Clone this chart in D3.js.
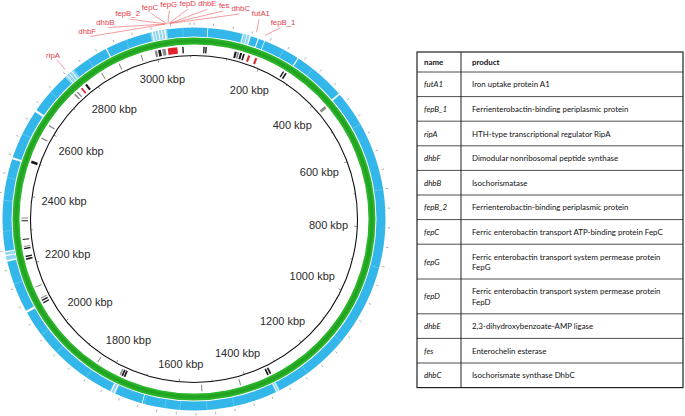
<!DOCTYPE html>
<html>
<head>
<meta charset="utf-8">
<script src="https://cdn.jsdelivr.net/npm/d3@7"></script>
<style>
  body { margin: 0; background: #fff; }
  svg { display: block; }
</style>
</head>
<body>
<svg id="chart" width="685" height="416"></svg>
<script>
// genome size and backbone ticks (kbp)
var genomeKbp = 3110;
var tickKbp = [200, 400, 600, 800, 1000, 1200, 1400, 1600, 1800, 2000, 2200, 2400, 2600, 2800, 3000];

// labelled genes and their positions (kbp)
var geneNames = ["futA1", "fepB_1", "ripA", "dhbF", "dhbB", "fepB_2", "fepC", "fepG", "fepD", "dhbE", "fes", "dhbC"];
var geneKbp   = [160, 183, 2758, 3036, 3038, 3040, 3042, 3044, 3046, 3048, 3050, 3052];
var products = [
  ["Iron uptake protein A1"],
  ["Ferrienterobactin-binding periplasmic protein"],
  ["HTH-type transcriptional regulator RipA"],
  ["Dimodular nonribosomal peptide synthase"],
  ["Isochorismatase"],
  ["Ferrienterobactin-binding periplasmic protein"],
  ["Ferric enterobactin transport ATP-binding protein FepC"],
  ["Ferric enterobactin transport system permease protein", "FepG"],
  ["Ferric enterobactin transport system permease protein", "FepD"],
  ["2,3-dihydroxybenzoate-AMP ligase"],
  ["Enterochelin esterase"],
  ["Isochorismate synthase DhbC"]
];

// outer (blue) ring: gaps, pale stretches and faint stripes (kbp)
var blueGaps = [[35, 37], [128, 130], [138, 140], [146, 149], [168, 171], [186, 188], [283, 286], [424, 428],
  [1327, 1329], [1333, 1335], [1690, 1692], [1766, 1769], [1775, 1778], [2079, 2085], [2222, 2225], [2236, 2239],
  [2246, 2248], [2490, 2495], [2626, 2632], [2750, 2752], [2758, 2760], [2766, 2768], [2873, 2876],
  [3000, 3003], [3008, 3010], [3016, 3019], [3024, 3027], [3032, 3036]];
var bluePale = [[126, 150], [1325, 1337], [1764, 1780], [2220, 2250], [2745, 2775], [2995, 3040]];
var blueStripes = [240, 330, 520, 700, 905, 1120, 1240, 1450, 1520, 1591, 1630, 1684, 1850, 1950, 2010, 2160, 2300, 2380, 2440, 2560, 2690, 2820, 2930, 3080];

// inner feature track: [start, end, kind]
var features = [
  [2996, 3003, "grey"], [3006, 3014, "black"], [3018, 3028, "grey"], [3034, 3062, "target"],
  [3076, 3080, "black"], [27, 31, "black"], [33, 37, "black"],
  [118, 124, "black"], [126, 131, "grey"], [134, 140, "black"], [143, 148, "black"], [158, 164, "target"], [180, 186, "target"],
  [268, 272, "black"], [276, 281, "black"], [425, 433, "grey"],
  [1325, 1330, "black"], [1333, 1338, "black"], [1418, 1420, "grey"], [1531, 1533, "grey"],
  [1758, 1763, "black"], [1765, 1770, "black"], [1772, 1776, "grey"], [1847, 1849, "grey"],
  [2079, 2083, "black"], [2087, 2091, "black"], [2095, 2097, "grey"], [2130, 2132, "grey"],
  [2214, 2219, "black"], [2222, 2226, "black"], [2245, 2249, "black"], [2252, 2254, "grey"], [2272, 2274, "black"],
  [2326, 2329, "black"], [2334, 2337, "grey"], [2496, 2504, "black"], [2572, 2576, "grey"], [2614, 2618, "grey"],
  [2730, 2735, "grey"], [2740, 2744, "grey"], [2756, 2761, "target"], [2772, 2778, "black"],
  [2829, 2831, "grey"], [2886, 2889, "grey"], [2954, 2957, "grey"]
];

var svg = d3.select("#chart");
var cx = 194, cy = 219;
var rBackbone = 163.5;

var angle = d3.scaleLinear().domain([0, genomeKbp]).range([0, 2 * Math.PI]);
var featColor = d3.scaleOrdinal().domain(["black", "grey", "target"]).range(["#1a1a1a", "#8a8a8a", "#e3232b"]);

function pt(a, r) { return [cx + r * Math.sin(a), cy - r * Math.cos(a)]; }

var g = svg.append("g").attr("transform", "translate(" + cx + "," + cy + ")");
var arc = d3.arc();

// outer small ticks
g.selectAll(".otick")
    .data(d3.range(0, genomeKbp, 50))
  .enter().append("line")
    .attr("x1", function(d) { return 194 * Math.sin(angle(d)); })
    .attr("y1", function(d) { return -194 * Math.cos(angle(d)); })
    .attr("x2", function(d) { return 196.5 * Math.sin(angle(d)); })
    .attr("y2", function(d) { return -196.5 * Math.cos(angle(d)); })
    .attr("stroke", "#9a9a9a")
    .attr("stroke-width", 0.8);

// blue ring
g.append("path")
    .attr("d", arc({innerRadius: 182.5, outerRadius: 191.5, startAngle: 0, endAngle: 2 * Math.PI}))
    .attr("fill", "#33b6e9");

g.selectAll(".bpale")
    .data(bluePale)
  .enter().append("path")
    .attr("d", function(d) { return arc({innerRadius: 182.5, outerRadius: 191.5, startAngle: angle(d[0]), endAngle: angle(d[1])}); })
    .attr("fill", "#8fd6f3");

g.selectAll(".bstripe")
    .data(blueStripes)
  .enter().append("path")
    .attr("d", function(d) { return arc({innerRadius: 182.5, outerRadius: 191.5, startAngle: angle(d), endAngle: angle(d + 1.5)}); })
    .attr("fill", "#7ccff2");

g.selectAll(".bgap")
    .data(blueGaps)
  .enter().append("path")
    .attr("d", function(d) { return arc({innerRadius: 182, outerRadius: 192, startAngle: angle(d[0]), endAngle: angle(d[1])}); })
    .attr("fill", "#ffffff");

// green ring
g.append("path")
    .attr("d", arc({innerRadius: 174.5, outerRadius: 181.5, startAngle: 0, endAngle: 2 * Math.PI}))
    .attr("fill", "#2bb52b");
g.append("path")
    .attr("d", arc({innerRadius: 176.5, outerRadius: 179.5, startAngle: 0, endAngle: 2 * Math.PI}))
    .attr("fill", "#22a422");

// feature track
g.selectAll(".feat")
    .data(features)
  .enter().append("path")
    .attr("d", function(d) {
      return arc({innerRadius: 166, outerRadius: 172.5, startAngle: angle(d[0]), endAngle: angle(Math.max(d[1], d[0] + 3)),
        cornerRadius: 1.5});
    })
    .attr("fill", function(d) { return featColor(d[2]); });

// backbone
g.append("circle")
    .attr("r", rBackbone)
    .attr("fill", "none")
    .attr("stroke", "#111")
    .attr("stroke-width", 1.1);

g.selectAll(".btick")
    .data(d3.range(100, genomeKbp, 100))
  .enter().append("line")
    .attr("x1", function(d) { return rBackbone * Math.sin(angle(d)); })
    .attr("y1", function(d) { return -rBackbone * Math.cos(angle(d)); })
    .attr("x2", function(d) { var r = rBackbone - (d % 200 === 0 ? 3 : 1.8); return r * Math.sin(angle(d)); })
    .attr("y2", function(d) { var r = rBackbone - (d % 200 === 0 ? 3 : 1.8); return -r * Math.cos(angle(d)); })
    .attr("stroke", "#555")
    .attr("stroke-width", 0.7);

// kbp labels inside the backbone
var kLabels = g.selectAll(".klab")
    .data(tickKbp)
  .enter().append("text")
    .attr("font-family", "'Liberation Sans', Arial, sans-serif")
    .attr("font-size", 11)
    .attr("fill", "#2a2a2a")
    .attr("text-anchor", "middle")
    .attr("dominant-baseline", "central")
    .text(function(d) { return d + " kbp"; });

kLabels.each(function(d) {
  var w = this.getComputedTextLength(), h = 13;
  var a = angle(d);
  var half = Math.abs(Math.sin(a)) * w / 2 + Math.abs(Math.cos(a)) * h / 2;
  var r = rBackbone - 9 - half;
  d3.select(this).attr("x", r * Math.sin(a)).attr("y", -r * Math.cos(a));
});

// gene labels spread on an outer arc
var rLabel = 216;
var labels = geneNames.map(function(n, i) {
  var a = angle(geneKbp[i]);
  if (a > Math.PI) a -= 2 * Math.PI;
  return {name: n, a0: a, a: a};
});

var gLab = g.append("g");
var labText = gLab.selectAll(".glab")
    .data(labels)
  .enter().append("text")
    .attr("font-family", "'Liberation Sans', Arial, sans-serif")
    .attr("font-size", 7.8)
    .attr("fill", "#e8404a")
    .attr("text-anchor", "middle")
    .attr("dominant-baseline", "central")
    .text(function(d) { return d.name; });
labText.each(function(d) { d.w = this.getComputedTextLength(); });

labels.sort(function(a, b) { return a.a0 - b.a0; });
var clusters = labels.map(function(d) { return [d]; });
function sep(a, b) { return ((a.w + b.w) / 2 + 2.4) / rLabel; }
function placeCluster(c) {
  var mean = d3.mean(c, function(d) { return d.a0; });
  var total = 0, offs = [0];
  for (var i = 1; i < c.length; i++) { total += sep(c[i - 1], c[i]); offs.push(total); }
  c.forEach(function(d, i) { d.a = mean - total / 2 + offs[i]; });
}
var merged = true;
while (merged) {
  merged = false;
  clusters.forEach(placeCluster);
  for (var i = 1; i < clusters.length; i++) {
    var p = clusters[i - 1], q = clusters[i];
    if (q[0].a - p[p.length - 1].a < sep(p[p.length - 1], q[0])) {
      clusters.splice(i - 1, 2, p.concat(q));
      merged = true;
      break;
    }
  }
}

labText
    .attr("x", function(d) { return pt(d.a, rLabel)[0] - cx; })
    .attr("y", function(d) { return pt(d.a, rLabel)[1] - cy; });

gLab.selectAll(".gline")
    .data(labels)
  .enter().append("line")
    .attr("x1", function(d) { return pt(d.a, rLabel - 6)[0] - cx; })
    .attr("y1", function(d) { return pt(d.a, rLabel - 6)[1] - cy; })
    .attr("x2", function(d) { return pt(d.a0, 197)[0] - cx; })
    .attr("y2", function(d) { return pt(d.a0, 197)[1] - cy; })
    .attr("stroke", "#ec5a62")
    .attr("stroke-width", 0.6);

// table of genes
var tx0 = 417, tx1 = 683, tDiv = 461, tTop = 52, headH = 20;
var lineH = 10.2, rowPad = 14.4;
var rows = geneNames.map(function(n, i) { return {name: n, lines: products[i]}; });
var y = tTop + headH;
rows.forEach(function(r) { r.y = y; r.h = rowPad + r.lines.length * lineH; y += r.h; });
var tBottom = y;

var tg = svg.append("g")
    .attr("font-family", "Lato, 'Noto Sans', sans-serif")
    .attr("font-size", 7.9)
    .attr("fill", "#111");

tg.append("text").attr("x", 424).attr("y", tTop + headH / 2).attr("dominant-baseline", "central")
    .attr("font-weight", "bold").text("name");
tg.append("text").attr("x", 472).attr("y", tTop + headH / 2).attr("dominant-baseline", "central")
    .attr("font-weight", "bold").text("product");

var rowG = tg.selectAll(".row")
    .data(rows)
  .enter().append("g");

rowG.append("text")
    .attr("x", 424)
    .attr("y", function(d) { return d.y + d.h / 2; })
    .attr("dominant-baseline", "central")
    .attr("font-style", "italic")
    .text(function(d) { return d.name; });

rowG.each(function(d) {
  var t = d3.select(this).append("text").attr("x", 472);
  var y0 = d.y + d.h / 2 - (d.lines.length - 1) * lineH / 2;
  d.lines.forEach(function(l, k) {
    t.append("tspan").attr("x", 472).attr("y", y0 + k * lineH).attr("dominant-baseline", "central").text(l);
  });
});

var hLines = [tTop + headH].concat(rows.slice(1).map(function(r) { return r.y; }));
tg.selectAll(".hl")
    .data(hLines)
  .enter().append("line")
    .attr("x1", tx0).attr("x2", tx1)
    .attr("y1", function(d) { return d; }).attr("y2", function(d) { return d; })
    .attr("stroke", "#222").attr("stroke-width", 0.8);

tg.append("line").attr("x1", tDiv).attr("x2", tDiv).attr("y1", tTop).attr("y2", tBottom)
    .attr("stroke", "#222").attr("stroke-width", 1);
tg.append("rect").attr("x", tx0).attr("y", tTop).attr("width", tx1 - tx0).attr("height", tBottom - tTop)
    .attr("fill", "none").attr("stroke", "#222").attr("stroke-width", 1.2);
</script>
</body>
</html>
